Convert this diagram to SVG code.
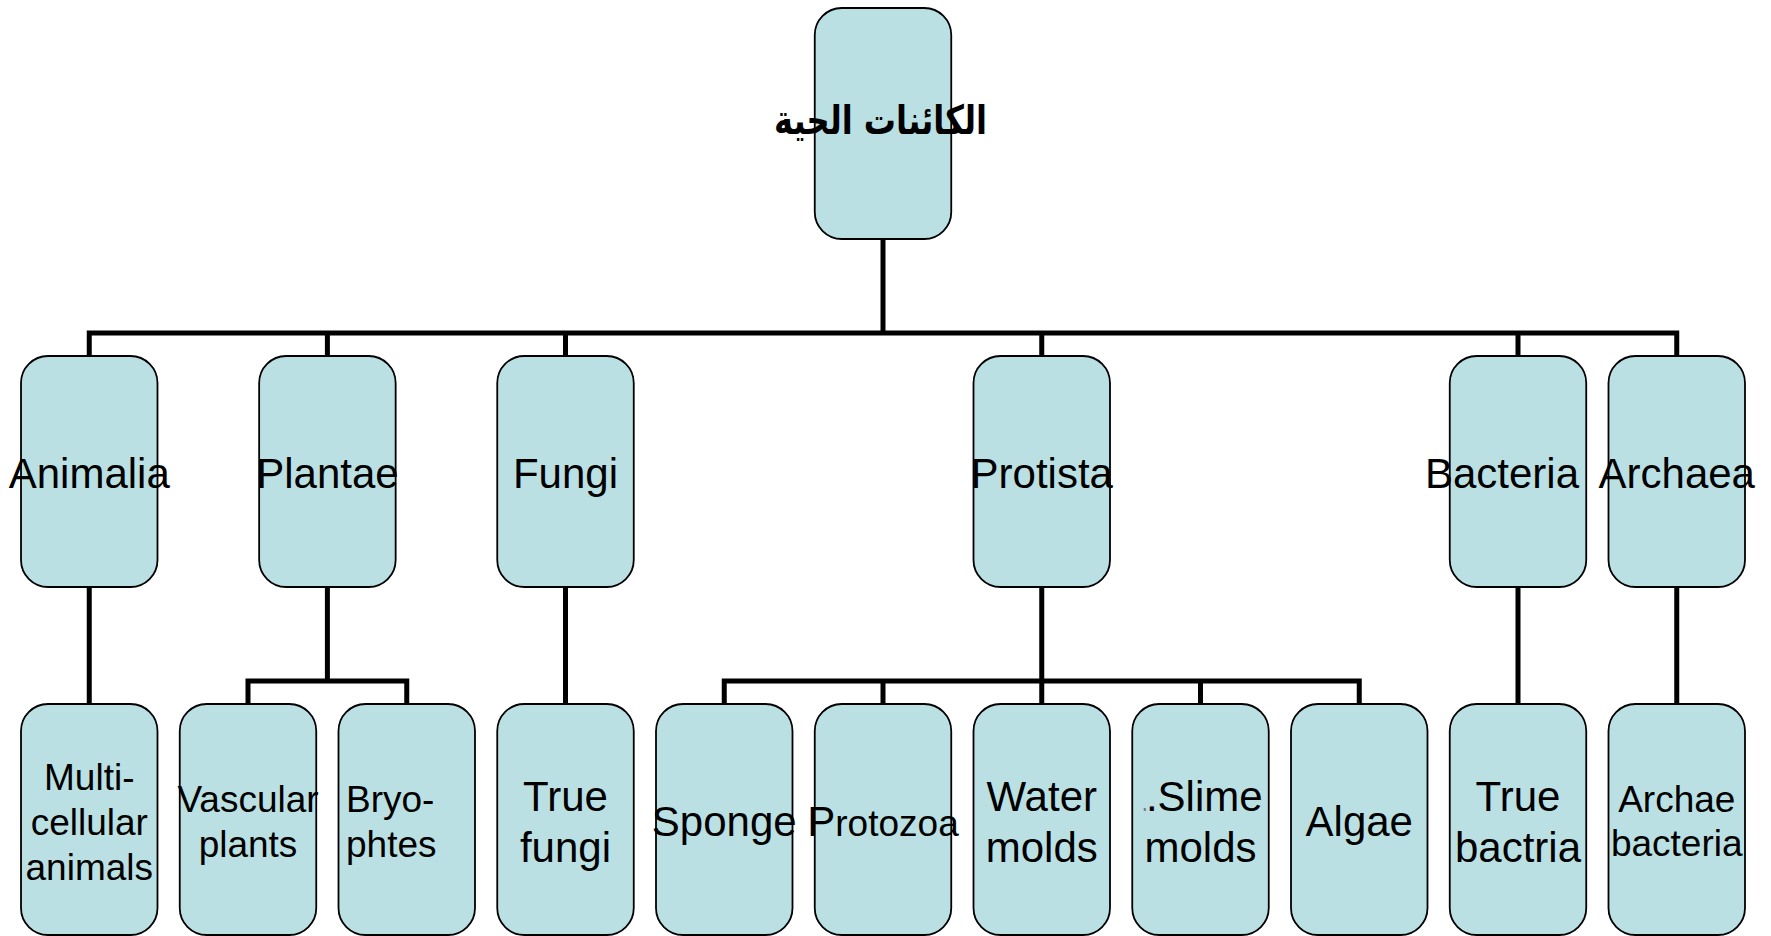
<svg xmlns="http://www.w3.org/2000/svg" width="1771" height="936" viewBox="0 0 1771 936">
<style>
.box{fill:#BBE0E3;stroke:#000;stroke-width:1.8}
.t{font-family:"Liberation Sans",Arial,sans-serif;fill:#000;text-anchor:middle}
.l{font-size:42px}
.s{font-size:37px}
.c{fill:none;stroke:#000;stroke-width:5;stroke-linejoin:miter;stroke-linecap:butt}
</style>
<rect width="1771" height="936" fill="#fff"/>
<g id="connectors">
<path class="c" d="M883 239 V333"/>
<path class="c" d="M89.25 357 V333 H1676.75 V357"/>
<path class="c" d="M327.4 333 V357 M565.5 333 V357 M1041.75 333 V357 M1518 333 V357"/>
<path class="c" d="M89.25 587 V705 M565.5 587 V705 M1518 587 V705 M1676.75 587 V705"/>
<path class="c" d="M327.4 587 V681 M248 705 V681 H406.75 V705"/>
<path class="c" d="M1041.75 587 V705 M724.25 705 V681 H1359.25 V705 M883 681 V705 M1200.5 681 V705"/>
</g>
<g id="root">
<rect class="box" x="814.75" y="8" width="136.5" height="231" rx="27"/>
<text x="880.5" y="134" font-family="'DejaVu Sans',sans-serif" font-weight="bold" font-size="40" text-anchor="middle" textLength="213" lengthAdjust="spacingAndGlyphs">الكائنات الحية</text>
</g>
<g id="animalia">
<rect class="box" x="21" y="356" width="136.5" height="231" rx="27"/>
<text class="t l" x="89.25" y="488">Animalia</text>
</g>
<g id="plantae">
<rect class="box" x="259.15" y="356" width="136.5" height="231" rx="27"/>
<text class="t l" x="327.4" y="488">Plantae</text>
</g>
<g id="fungi">
<rect class="box" x="497.25" y="356" width="136.5" height="231" rx="27"/>
<text class="t l" x="565.5" y="488">Fungi</text>
</g>
<g id="protista">
<rect class="box" x="973.5" y="356" width="136.5" height="231" rx="27"/>
<text class="t l" x="1041.75" y="488">Protista</text>
</g>
<g id="bacteria">
<rect class="box" x="1449.75" y="356" width="136.5" height="231" rx="27"/>
<text class="t l" x="1502" y="488">Bacteria</text>
</g>
<g id="archaea">
<rect class="box" x="1608.5" y="356" width="136.5" height="231" rx="27"/>
<text class="t l" x="1676.75" y="488">Archaea</text>
</g>
<g id="multicellular">
<rect class="box" x="21" y="704" width="136.5" height="231" rx="27"/>
<text class="t s" x="89.25" y="790">Multi-</text>
<text class="t s" x="89.25" y="835">cellular</text>
<text class="t s" x="89.25" y="880">animals</text>
</g>
<g id="vascular">
<rect class="box" x="179.75" y="704" width="136.5" height="231" rx="27"/>
<text class="t s" x="248" y="812">Vascular</text>
<text class="t s" x="248" y="857">plants</text>
</g>
<g id="bryophtes">
<rect class="box" x="338.5" y="704" width="136.5" height="231" rx="27"/>
<text class="t s" x="346" y="812" style="text-anchor:start">Bryo-</text>
<text class="t s" x="346" y="857" style="text-anchor:start">phtes</text>
</g>
<g id="truefungi">
<rect class="box" x="497.25" y="704" width="136.5" height="231" rx="27"/>
<text class="t l" x="565.5" y="811">True</text>
<text class="t l" x="565.5" y="862">fungi</text>
</g>
<g id="sponge">
<rect class="box" x="656" y="704" width="136.5" height="231" rx="27"/>
<text class="t l" x="724.25" y="836">Sponge</text>
</g>
<g id="protozoa">
<rect class="box" x="814.75" y="704" width="136.5" height="231" rx="27"/>
<text class="t s" x="883" y="836"><tspan class="l">P</tspan>rotozoa</text>
</g>
<g id="watermolds">
<rect class="box" x="973.5" y="704" width="136.5" height="231" rx="27"/>
<text class="t l" x="1041.75" y="811">Water</text>
<text class="t l" x="1041.75" y="862">molds</text>
</g>
<g id="slimemolds">
<rect class="box" x="1132.25" y="704" width="136.5" height="231" rx="27"/>
<text class="t l" x="1203" y="811"><tspan font-size="5">s</tspan>.Slime</text>
<text class="t l" x="1200.5" y="862">molds</text>
</g>
<g id="algae">
<rect class="box" x="1291" y="704" width="136.5" height="231" rx="27"/>
<text class="t l" x="1359.25" y="836">Algae</text>
</g>
<g id="truebactria">
<rect class="box" x="1449.75" y="704" width="136.5" height="231" rx="27"/>
<text class="t l" x="1518" y="811">True</text>
<text class="t l" x="1518" y="862">bactria</text>
</g>
<g id="archaebacteria">
<rect class="box" x="1608.5" y="704" width="136.5" height="231" rx="27"/>
<text class="t s" x="1676.75" y="812">Archae</text>
<text class="t s" x="1676.75" y="856">bacteria</text>
</g>
</svg>
